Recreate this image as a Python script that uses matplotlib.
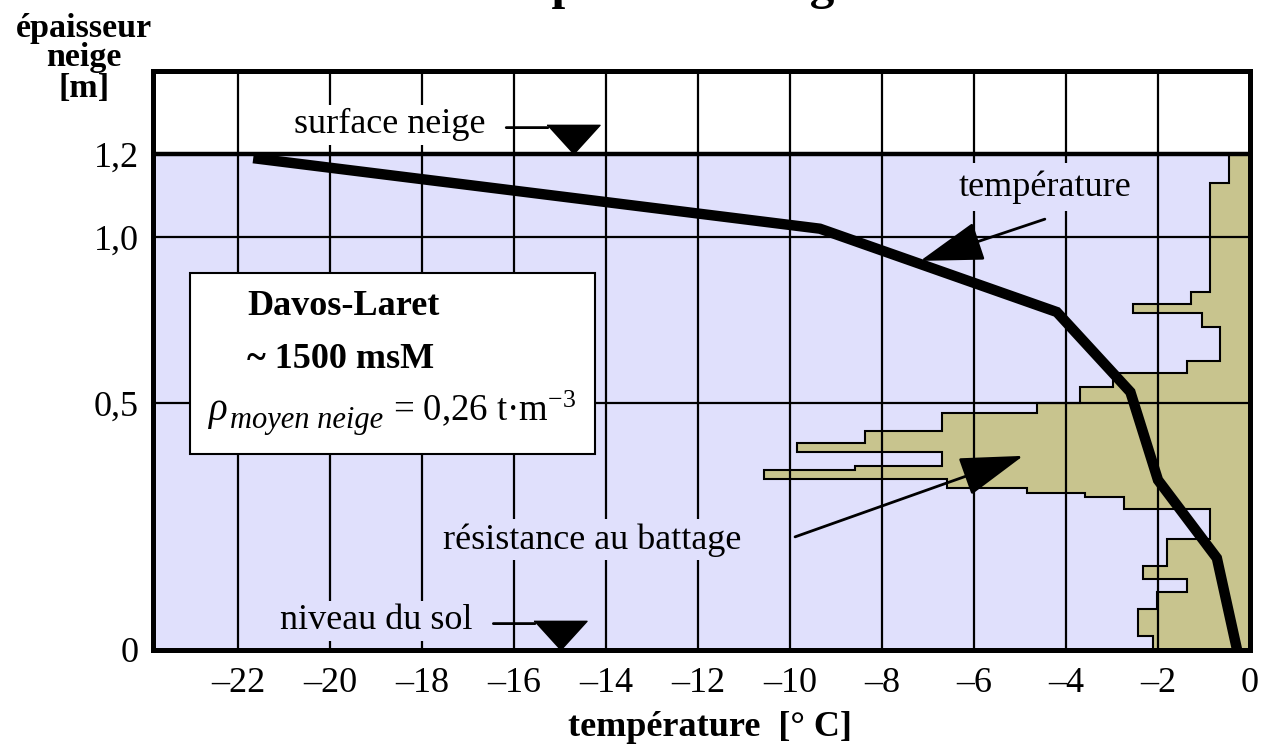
import numpy as np
import matplotlib
matplotlib.use('Agg')
import matplotlib.pyplot as plt
from matplotlib.patches import Rectangle
from matplotlib.transforms import offset_copy

plt.rcParams['font.family'] = ['Liberation Serif', 'DejaVu Serif']
plt.rcParams['mathtext.fontset'] = 'custom'
plt.rcParams['mathtext.rm'] = 'Liberation Serif'
plt.rcParams['mathtext.it'] = 'Liberation Serif:italic'
plt.rcParams['mathtext.bf'] = 'Liberation Serif:bold'

# profil de température : épaisseur [m] / température [°C]
prof_epaisseur = [1.19, 1.02, 0.774, 0.533, 0.344, 0.186, 0.0]
prof_temp = [-21.67, -9.35, -4.20, -2.60, -2.00, -0.72, -0.28]

# résistance au battage : limites des couches [m] (du sol vers la surface)
battage_limites = [0.0, 0.028, 0.083, 0.117, 0.144, 0.170, 0.225, 0.285, 0.310,
                   0.318, 0.328, 0.346, 0.364, 0.372, 0.401, 0.419, 0.443, 0.480,
                   0.5, 0.548, 0.590, 0.627, 0.729, 0.771, 0.798, 0.834, 1.130, 1.2]
battage_valeurs = [-2.11, -2.43, -2.02, -1.37, -2.33, -1.80, -0.87, -2.74, -3.59,
                   -4.85, -6.59, -10.57, -8.59, -6.70, -9.85, -8.37, -6.70, -4.63,
                   -3.70, -2.98, -1.37, -0.65, -1.04, -2.54, -1.28, -0.87, -0.46]

# repères de niveau
niveaux_nom = ['surface neige', 'niveau du sol']
niveaux_ep = [1.2, 0.0]
niveaux_temp = [-14.72, -15.0]

temp_ticks = [-22, -20, -18, -16, -14, -12, -10, -8, -6, -4, -2, 0]
temp_labels = ['–22', '–20', '–18', '–16', '–14', '–12', '–10', '–8', '–6', '–4', '–2', '0']
ep_ticks = [0, 0.5, 1.0, 1.2]
ep_labels = ['0', '0,5', '1,0', '1,2']

LAVANDE = '#e0e0fc'
OLIVE = '#c8c48e'
FS = 26

# l'axe vertical de l'original n'est pas linéaire
ech_m = [-1.0, 0.0, 0.5, 1.0, 1.2, 2.0]
ech_px = [-494, 0, 247, 413, 496, 828]


def vers_px(v):
    return np.interp(v, ech_m, ech_px)


def vers_m(p):
    return np.interp(p, ech_px, ech_m)


fig = plt.figure(figsize=(12.63, 7.49), dpi=100)
ax = fig.add_axes([0.1211, 0.1322, 0.8686, 0.7730])
ax.set_yscale('function', functions=(vers_px, vers_m))
ax.set_xlim(-23.85, 0)
ax.set_ylim(0, 1.4)
ax.set_facecolor('white')
ax.axhspan(0, 1.2, color=LAVANDE, lw=0, zorder=0)

ax.stairs(battage_valeurs, battage_limites, orientation='horizontal', baseline=0,
          fill=True, facecolor=OLIVE, edgecolor='black', lw=1.5, zorder=1)

ax.set_axisbelow(False)
ax.grid(True, which='major', color='black', lw=1.6)
ax.axhline(1.2, color='black', lw=3.2, zorder=3)

ax.plot(prof_temp, prof_epaisseur, color='black', lw=7.5,
        solid_joinstyle='miter', solid_capstyle='butt', zorder=4)

for s in ax.spines.values():
    s.set_linewidth(3.6)
    s.set_zorder(6)

ax.set_xticks(temp_ticks, temp_labels)
ax.set_yticks(ep_ticks, ep_labels)
ax.minorticks_off()
ax.tick_params(which='both', length=0, labelsize=FS)
ax.tick_params(axis='x', pad=12)
ax.tick_params(axis='y', pad=10)

# repères de niveau (triangle + étiquette + trait)
tri = [(-1, 1.1), (1, 1.1), (0, 0)]
for nom, ep, t in zip(niveaux_nom, niveaux_ep, niveaux_temp):
    fond = 'white' if ep >= 1.2 else LAVANDE
    ax.plot([t], [ep], marker=tri, ms=42, color='black', lw=0, clip_on=False, zorder=5)
    ax.annotate(nom, xy=(t, ep), xytext=(-132, 21), textcoords='offset points',
                ha='center', va='center', fontsize=FS, zorder=5,
                bbox=dict(boxstyle='square,pad=0.1', fc=fond, ec='none'))
    ax.annotate('', xy=(t, ep), xytext=(t, ep),
                xycoords=offset_copy(ax.transData, fig=fig, x=-18, y=19, units='points'),
                textcoords=offset_copy(ax.transData, fig=fig, x=-48, y=19, units='points'),
                arrowprops=dict(arrowstyle='-', lw=2, color='black', shrinkA=0, shrinkB=0),
                zorder=5)

fleche = dict(arrowstyle='-|>,head_length=40,head_width=12.5', mutation_scale=1,
              lw=2, color='black', shrinkA=0, shrinkB=0)

ax.text(-4.46, 1.12, 'température', ha='center', va='center', fontsize=FS, zorder=5,
        bbox=dict(boxstyle='square,pad=0.2', fc=LAVANDE, ec='none'))
ax.annotate('', xy=(-7.17, 0.928), xytext=(-4.46, 1.043), arrowprops=fleche, zorder=5)

ax.text(-14.30, 0.223, 'résistance au battage', ha='center', va='center', fontsize=FS,
        zorder=5, bbox=dict(boxstyle='square,pad=0.1', fc=LAVANDE, ec='none'))
ax.annotate('', xy=(-4.93, 0.393), xytext=(-9.89, 0.229), arrowprops=fleche, zorder=5)

# cartouche
ax.add_patch(Rectangle((0.0337, 0.3385), 0.3693, 0.3125, transform=ax.transAxes,
                       facecolor='white', edgecolor='black', lw=1.5, zorder=7))
ax.text(0.0857, 0.5786, 'Davos-Laret', transform=ax.transAxes, fontsize=FS,
        weight='bold', va='baseline', zorder=8)
ax.text(0.0857, 0.487, '~ 1500 msM', transform=ax.transAxes, fontsize=FS,
        weight='bold', va='baseline', zorder=8)
ax.text(0.0501, 0.397, r'$\rho$', transform=ax.transAxes,
        fontsize=28, va='baseline', zorder=8)
ax.text(0.0702, 0.3834, 'moyen neige', transform=ax.transAxes, style='italic',
        fontsize=22, va='baseline', zorder=8)
ax.text(0.2188, 0.397, '= 0,26 t·m$^{-3}$', transform=ax.transAxes,
        fontsize=26.5, va='baseline', zorder=8)

fig.text(658 / 1263, 1 + 1 / 749, 'Température neige', fontsize=35.6, weight='bold',
         ha='center', va='baseline')
for ligne, base in zip(['épaisseur', 'neige', '[m]'], [37, 66, 97]):
    fig.text(84 / 1263, 1 - base / 749, ligne, fontsize=24.5, weight='bold',
             ha='center', va='baseline')
fig.text(710 / 1263, 1 - 728 / 749, 'température  [° C]', fontsize=FS, weight='bold',
         ha='center', va='center')

fig.savefig('out.png', dpi=100)
